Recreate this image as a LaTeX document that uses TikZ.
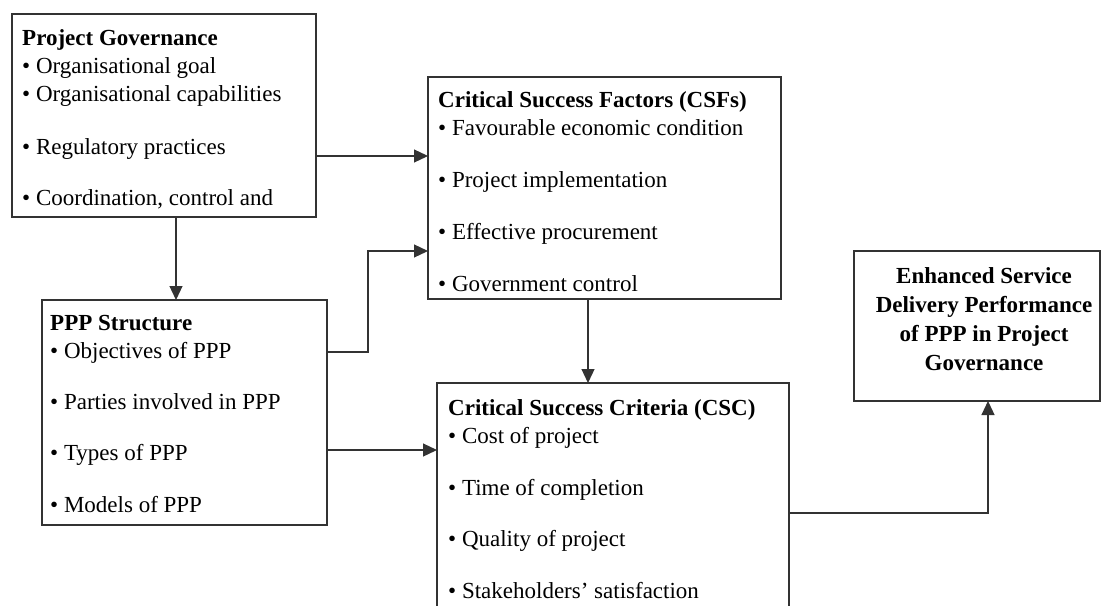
\documentclass[tikz,border=0pt]{standalone}
\usepackage{fontspec}
\setmainfont{Liberation Serif}
\usetikzlibrary{arrows.meta,calc}
\begin{document}
\begin{tikzpicture}[x=1pt,y=-1pt,
  box/.style={draw=black!80, line width=1.2pt, inner sep=0pt, outer sep=0pt, anchor=north west},
  txt/.style={anchor=north west, inner sep=0pt, align=left, font=\fontsize{23}{28}\selectfont},
  ctxt/.style={anchor=north, inner sep=0pt, align=center, font=\fontsize{23}{29}\selectfont\bfseries},
  arr/.style={draw=black!80, line width=1.2pt, -{Triangle[length=14pt,width=13pt]}},
  ln/.style={draw=black!80, line width=1.2pt}]
\useasboundingbox (0,0) rectangle (1102,605);
\clip (0,0) rectangle (1102,605);
% boxes
\node[box, minimum width=304pt, minimum height=203pt] (pg) at (12,14) {};
\node[box, minimum width=353pt, minimum height=222pt] (csf) at (428,77) {};
\node[box, minimum width=285pt, minimum height=225pt] (ppp) at (42,300) {};
\node[box, minimum width=352pt, minimum height=240pt] (csc) at (437,383) {};
\node[box, minimum width=246pt, minimum height=150pt] (enh) at (854,251) {};
% texts
\node[txt] (pgt) at (22,29.5) {\textbf{Project Governance}\\ • Organisational goal\\ • Organisational capabilities\\[25pt] • Regulatory practices\\[23pt] • Coordination, control and};
\node[txt] (csft) at (438,91.5) {\textbf{Critical Success Factors (CSFs)}\\ • Favourable economic condition\\[24pt] • Project implementation\\[24pt] • Effective procurement\\[24pt] • Government control};
\node[txt] (pppt) at (50,315.5) {\textbf{PPP Structure}\\ • Objectives of PPP\\[23pt] • Parties involved in PPP\\[23pt] • Types of PPP\\[24pt] • Models of PPP};
\node[txt] (csct) at (448,399.5) {\textbf{Critical Success Criteria (CSC)}\\ • Cost of project\\[24pt] • Time of completion\\[23pt] • Quality of project\\[24pt] • Stakeholders’ satisfaction};
\node[ctxt] (enht) at (984,267.5) {Enhanced Service\\ Delivery Performance\\ of PPP in Project\\ Governance};
% helper coordinates
\coordinate (h156) at (0,156);
\coordinate (h251) at (0,251);
\coordinate (h352) at (0,352);
\coordinate (h450) at (0,450);
\coordinate (h513) at (0,513);
\coordinate (v176) at (176,0);
\coordinate (v368) at (368,0);
\coordinate (v588) at (588,0);
\coordinate (v988) at (988,0);
% connectors
\draw[arr] (pg.east |- h156) -- (csf.west |- h156);
\draw[arr] (pg.south -| v176) -- (ppp.north -| v176);
\draw[arr] (ppp.east |- h352) -- (v368 |- h352) -- (v368 |- h251) -- (csf.west |- h251);
\draw[arr] (ppp.east |- h450) -- (csc.west |- h450);
\draw[arr] (csf.south -| v588) -- (csc.north -| v588);
\draw[arr] (csc.east |- h513) -- (v988 |- h513) -- (enh.south -| v988);
\end{tikzpicture}
\end{document}
